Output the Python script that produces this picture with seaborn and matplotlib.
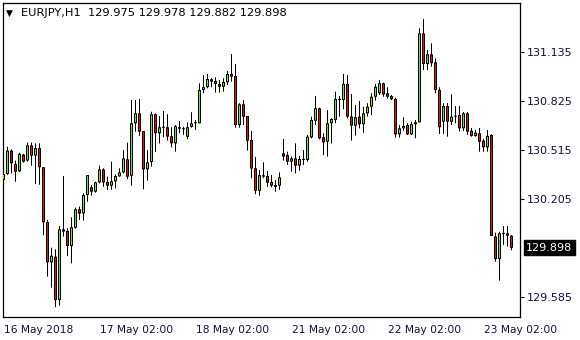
import numpy as np
import pandas as pd
import matplotlib
matplotlib.use("Agg")
import matplotlib.pyplot as plt
import seaborn as sns

symbol = "EURJPY,H1"
last_price = 129.898
x_tick_bars = [0, 24, 48, 72, 96, 120]
x_tick_labels = ["16 May 2018", "17 May 02:00", "18 May 02:00",
                 "21 May 02:00", "22 May 02:00", "23 May 02:00"]
y_ticks = [129.585, 130.205, 130.515, 130.825, 131.135]

opens = [130.327, 130.365, 130.513, 130.429, 130.382, 130.487, 130.450, 130.546, 130.481, 130.529,
         130.408, 130.061, 129.806, 129.842, 129.568, 130.015, 130.005, 129.910, 130.025, 130.142,
         130.116, 130.232, 130.281, 130.253, 130.312, 130.394, 130.314, 130.291, 130.319, 130.350,
         130.375, 130.458, 130.354, 130.686, 130.749, 130.636, 130.394, 130.441, 130.743, 130.623,
         130.663, 130.661, 130.604, 130.559, 130.661, 130.648, 130.601, 130.664, 130.686, 130.686,
         130.897, 130.914, 130.964, 130.953, 130.935, 130.917, 130.945, 130.998, 130.985, 130.675,
         130.806, 130.732, 130.580, 130.401, 130.259, 130.348, 130.352, 130.314, 130.295, 130.291,
         130.496, 130.485, 130.443, 130.464, 130.418, 130.454, 130.454, 130.597, 130.702, 130.781,
         130.597, 130.569, 130.686, 130.707, 130.833, 130.833, 130.935, 130.728, 130.671, 130.728,
         130.680, 130.749, 130.791, 130.854, 130.876, 130.939, 130.876, 130.859, 130.840, 130.616,
         130.654, 130.675, 130.616, 130.680, 130.692, 131.255, 131.061, 131.122, 131.072, 130.897,
         130.696, 130.795, 130.696, 130.728, 130.738, 130.654, 130.749, 130.639, 130.606, 130.623,
         130.576, 130.534, 130.612, 129.969, 129.827, 129.990, 129.990, 129.975]
highs = [130.466, 130.538, 130.521, 130.450, 130.500, 130.492, 130.563, 130.565, 130.559, 130.559,
         130.408, 130.074, 129.899, 129.888, 130.036, 130.352, 130.022, 130.091, 130.152, 130.159,
         130.243, 130.358, 130.295, 130.316, 130.418, 130.401, 130.348, 130.443, 130.363, 130.401,
         130.517, 130.563, 130.833, 130.833, 130.840, 130.636, 130.517, 130.759, 130.749, 130.732,
         130.764, 130.743, 130.661, 130.675, 130.700, 130.664, 130.690, 130.756, 130.707, 130.939,
         130.991, 130.998, 130.971, 130.977, 130.960, 130.971, 131.017, 131.124, 131.061, 130.813,
         130.833, 130.732, 130.637, 130.473, 130.390, 130.439, 130.384, 130.358, 130.327, 130.375,
         130.587, 130.506, 130.475, 130.559, 130.479, 130.517, 130.612, 130.728, 130.859, 130.785,
         130.623, 130.770, 130.718, 130.886, 130.859, 130.998, 130.991, 130.871, 130.802, 130.827,
         130.791, 130.813, 130.876, 130.935, 130.960, 130.943, 130.914, 130.865, 130.848, 130.675,
         130.724, 130.686, 130.696, 130.707, 131.287, 131.346, 131.150, 131.192, 131.097, 130.914,
         130.813, 130.814, 130.869, 130.795, 130.795, 130.757, 130.757, 130.656, 130.644, 130.656,
         130.587, 130.644, 130.616, 129.994, 130.000, 130.036, 130.036, 129.978]
lows = [130.295, 130.360, 130.369, 130.316, 130.377, 130.437, 130.443, 130.418, 130.302, 130.297,
        129.977, 129.716, 129.646, 129.522, 129.532, 129.969, 129.846, 129.800, 130.019, 130.074,
        130.070, 130.190, 130.228, 130.247, 130.306, 130.284, 130.264, 130.264, 130.274, 130.348,
        130.369, 130.332, 130.291, 130.633, 130.606, 130.268, 130.323, 130.412, 130.506, 130.559,
        130.597, 130.576, 130.534, 130.506, 130.623, 130.612, 130.585, 130.658, 130.644, 130.686,
        130.876, 130.907, 130.914, 130.880, 130.880, 130.886, 130.928, 130.949, 130.658, 130.658,
        130.675, 130.513, 130.338, 130.237, 130.228, 130.338, 130.284, 130.281, 130.253, 130.264,
        130.450, 130.422, 130.379, 130.369, 130.386, 130.422, 130.443, 130.591, 130.675, 130.585,
        130.485, 130.475, 130.559, 130.686, 130.728, 130.775, 130.718, 130.576, 130.608, 130.654,
        130.626, 130.728, 130.738, 130.829, 130.865, 130.854, 130.842, 130.833, 130.595, 130.595,
        130.639, 130.612, 130.612, 130.591, 130.692, 131.023, 131.023, 131.044, 130.876, 130.618,
        130.618, 130.601, 130.675, 130.686, 130.633, 130.637, 130.612, 130.601, 130.601, 130.506,
        130.506, 130.506, 129.973, 129.810, 129.690, 129.916, 129.905, 129.882]
closes = [130.365, 130.513, 130.433, 130.379, 130.492, 130.443, 130.546, 130.481, 130.529, 130.408,
          130.059, 129.806, 129.848, 129.568, 130.015, 130.000, 129.910, 130.028, 130.142, 130.114,
          130.232, 130.358, 130.253, 130.312, 130.394, 130.312, 130.291, 130.319, 130.352, 130.375,
          130.464, 130.348, 130.686, 130.749, 130.633, 130.394, 130.439, 130.743, 130.623, 130.661,
          130.658, 130.601, 130.559, 130.667, 130.652, 130.650, 130.661, 130.686, 130.692, 130.897,
          130.914, 130.966, 130.949, 130.935, 130.917, 130.947, 130.998, 130.981, 130.675, 130.806,
          130.728, 130.576, 130.400, 130.259, 130.358, 130.357, 130.310, 130.291, 130.284, 130.344,
          130.475, 130.443, 130.464, 130.418, 130.460, 130.460, 130.601, 130.707, 130.781, 130.591,
          130.565, 130.686, 130.713, 130.840, 130.840, 130.935, 130.728, 130.671, 130.724, 130.680,
          130.749, 130.791, 130.854, 130.917, 130.939, 130.868, 130.854, 130.838, 130.616, 130.654,
          130.669, 130.616, 130.680, 130.692, 131.255, 131.061, 131.122, 131.066, 130.897, 130.661,
          130.795, 130.696, 130.728, 130.732, 130.654, 130.749, 130.633, 130.606, 130.626, 130.569,
          130.534, 130.606, 129.973, 129.827, 129.990, 129.986, 129.975, 129.898]

df = pd.DataFrame({"open": opens, "high": highs, "low": lows, "close": closes})
df["bar"] = np.arange(len(df))
df["up"] = df["close"] >= df["open"]
df["body_bottom"] = df[["open", "close"]].min(axis=1)
df["body_height"] = (df["close"] - df["open"]).abs()

sns.set_style("white")
plt.rcParams["font.family"] = ["DejaVu Sans"]

W, H = 580, 340
fig = plt.figure(figsize=(W / 100, H / 100), dpi=100)
left, right, top, bottom = 2.7, 520.0, 2.7, 316.7
ax = fig.add_axes([left / W, 1 - bottom / H, (right - left) / W, (bottom - top) / H])

y_lo, y_hi = 129.462, 131.449
px = (y_hi - y_lo) / (bottom - top)  # price per pixel

GREEN = "#7FE31A"
RED = "#E41010"

# wicks
ax.vlines(df["bar"], df["low"], df["high"], color="black", linewidth=0.72,
          snap=False, zorder=2)
# body outline (black)
outer_h = np.maximum(df["body_height"], px)
ax.bar(df["bar"], outer_h, bottom=df["body_bottom"], width=0.75, color="black",
       linewidth=0, snap=False, zorder=3)
# body fill (colour)
inner_h = np.maximum(df["body_height"] - 2 * px, 0)
ax.bar(df["bar"], inner_h, bottom=df["body_bottom"] + px, width=0.25,
       color=np.where(df["up"], GREEN, RED), linewidth=0, snap=False, zorder=4)

ax.set_xlim((left - 3.5) / 4, (right - 3.5) / 4)
ax.set_ylim(y_lo, y_hi)

for s in ax.spines.values():
    s.set_color("black")
    s.set_linewidth(0.9)

ax.yaxis.tick_right()
ax.set_yticks(y_ticks)
ax.set_yticklabels([f"{v:.3f}" for v in y_ticks])
ax.tick_params(axis="y", direction="out", length=3, width=0.8, pad=2, labelsize=8,
               colors="black", labelcolor="#10103A")
ax.set_xticks(x_tick_bars)
ax.set_xticklabels(x_tick_labels)
ax.tick_params(axis="x", direction="out", length=3, width=0.8, pad=3, labelsize=7.7,
               colors="black", labelcolor="#10103A")
for lbl in ax.get_xticklabels():
    lbl.set_ha("left")
ax.set_xlabel("")
ax.set_ylabel("")

ax.annotate(f"{last_price:.3f}", xy=(1, last_price), xycoords=("axes fraction", "data"),
            xytext=(4.5, 0), textcoords="offset points", ha="left", va="center",
            fontsize=8, color="white",
            bbox=dict(boxstyle="square,pad=0.22", fc="black", ec="black"))

fig.text(6 / W, 1 - 13 / H, "\u25BC", fontsize=6.5, ha="left", va="center", color="black")
header = f"{symbol}  {opens[-1]:.3f} {highs[-1]:.3f} {lows[-1]:.3f} {closes[-1]:.3f}"
fig.text(21 / W, 1 - 13 / H, header, fontsize=8.2, ha="left", va="center", color="black")

fig.savefig("out.png", dpi=100, facecolor="white")
